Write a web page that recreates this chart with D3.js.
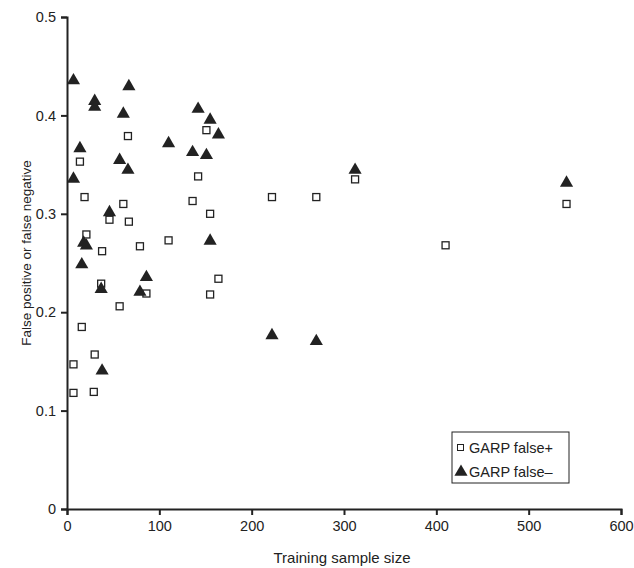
<!DOCTYPE html>
<html>
<head>
<meta charset="utf-8">
<script src="https://cdn.jsdelivr.net/npm/d3@7"></script>
<style>
  body { margin: 0; background: #fff; }
  text { font-family: "Liberation Sans", Arial, sans-serif; fill: #222; }
</style>
</head>
<body>
<div id="chart"></div>
<script>
// GARP false positives (squares)
const posX = [66, 151, 14, 142, 19, 61, 136, 46, 67, 155, 21, 38, 79, 110, 164, 37, 86, 155, 57, 16, 30, 7, 7, 29, 312, 222, 270, 541, 410];
const posY = [0.379, 0.385, 0.353, 0.338, 0.317, 0.310, 0.313, 0.294, 0.292, 0.300, 0.279, 0.262, 0.267, 0.273, 0.234, 0.229, 0.219, 0.218, 0.206, 0.185, 0.157, 0.147, 0.118, 0.119, 0.335, 0.317, 0.317, 0.310, 0.268];

// GARP false negatives (triangles)
const negX = [7, 67, 30, 30, 61, 142, 155, 164, 14, 110, 136, 151, 57, 66, 7, 46, 18, 21, 155, 16, 86, 37, 79, 38, 312, 541, 222, 270];
const negY = [0.437, 0.431, 0.416, 0.410, 0.403, 0.408, 0.397, 0.382, 0.368, 0.373, 0.364, 0.361, 0.356, 0.346, 0.337, 0.303, 0.272, 0.269, 0.274, 0.250, 0.237, 0.225, 0.222, 0.142, 0.346, 0.333, 0.178, 0.172];

const xTicks = [0, 100, 200, 300, 400, 500, 600];
const yTicks = [0, 0.1, 0.2, 0.3, 0.4, 0.5];
const seriesNames = ["GARP false+", "GARP false\u2013"];

const width = 634, height = 568;
const margin = {top: 17, right: 13, bottom: 59, left: 67};
const ink = "#222";

const svg = d3.select("#chart").append("svg")
  .attr("width", width)
  .attr("height", height);

const x = d3.scaleLinear().domain([0, 600]).range([margin.left, width - margin.right]);
const y = d3.scaleLinear().domain([0, 0.5]).range([height - margin.bottom, margin.top]);

// axes
const xAxis = svg.append("g")
  .attr("transform", `translate(0,${y(0)})`)
  .call(d3.axisBottom(x).tickValues(xTicks).tickSize(6).tickPadding(6).tickFormat(d3.format("d")));
const yAxis = svg.append("g")
  .attr("transform", `translate(${x(0)},0)`)
  .call(d3.axisLeft(y).tickValues(yTicks).tickSize(6).tickPadding(5).tickFormat(d => d === 0 ? "0" : d3.format(".1f")(d)));

[xAxis, yAxis].forEach(g => {
  g.select(".domain").attr("stroke", ink).attr("stroke-width", 2);
  g.selectAll(".tick line").attr("stroke", ink).attr("stroke-width", 2);
  g.selectAll(".tick text").style("font-size", "14.5px").attr("fill", ink);
});

// axis titles
svg.append("text")
  .attr("x", x(300) - 2)
  .attr("y", 563)
  .attr("text-anchor", "middle")
  .style("font-size", "15px")
  .text("Training sample size");

svg.append("text")
  .attr("transform", `translate(31,253) rotate(-90)`)
  .attr("text-anchor", "middle")
  .style("font-size", "13.5px")
  .text("False positive or false negative");

// markers
const tri = d3.symbol().type(d3.symbolTriangle).size(75);

svg.append("g").selectAll("rect")
  .data(d3.zip(posX, posY))
  .enter().append("rect")
    .attr("x", d => x(d[0]) - 3.5)
    .attr("y", d => y(d[1]) - 3.5)
    .attr("width", 7)
    .attr("height", 7)
    .attr("fill", "#fff")
    .attr("stroke", ink)
    .attr("stroke-width", 1.3);

svg.append("g").selectAll("path")
  .data(d3.zip(negX, negY))
  .enter().append("path")
    .attr("d", tri)
    .attr("transform", d => `translate(${x(d[0])},${y(d[1]) + 1.5})`)
    .attr("fill", ink);

// legend
const lg = svg.append("g").attr("transform", "translate(452,432)");
lg.append("rect")
  .attr("width", 117)
  .attr("height", 51)
  .attr("fill", "#fff")
  .attr("stroke", ink)
  .attr("stroke-width", 1);
lg.append("rect")
  .attr("x", 5.5).attr("y", 12.5)
  .attr("width", 6).attr("height", 6)
  .attr("fill", "#fff").attr("stroke", ink).attr("stroke-width", 1);
lg.append("path")
  .attr("d", tri)
  .attr("transform", "translate(9,40)")
  .attr("fill", ink);
lg.selectAll("text.lab")
  .data(seriesNames)
  .enter().append("text")
    .attr("class", "lab")
    .attr("x", 17)
    .attr("y", (d, i) => 21 + i * 23.5)
    .style("font-size", "14.5px")
    .text(d => d);
</script>
</body>
</html>
